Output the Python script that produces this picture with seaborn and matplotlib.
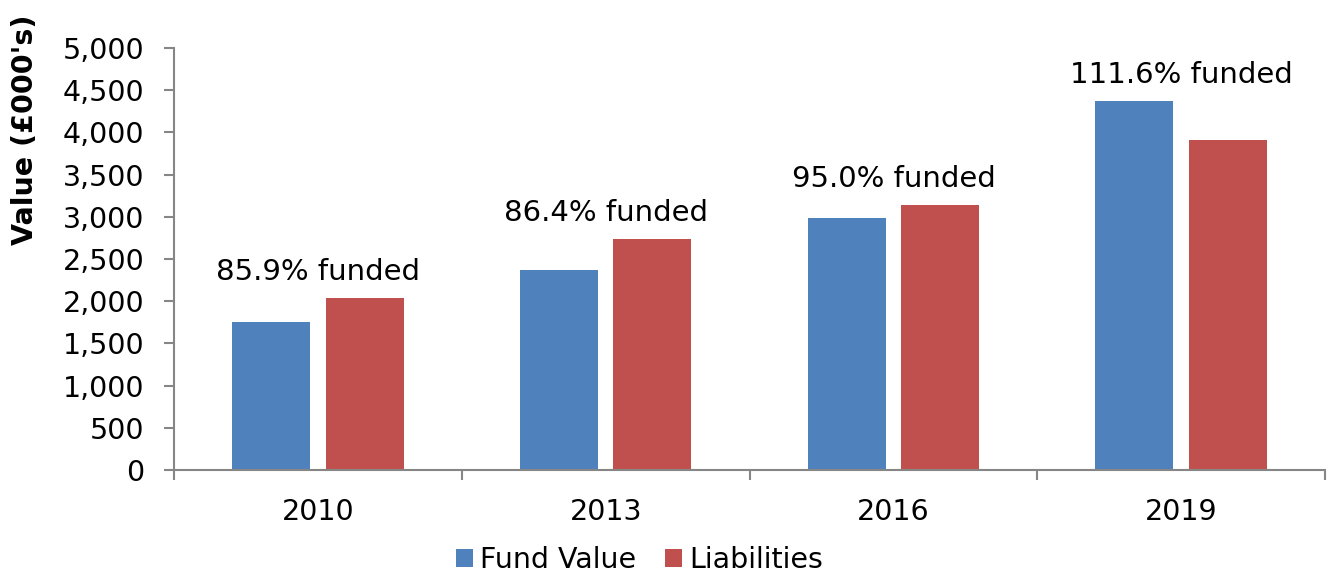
import pandas as pd
import numpy as np
import matplotlib.pyplot as plt
import seaborn as sns
from matplotlib.patches import Patch

# chart values
years = ['2010', '2013', '2016', '2019']
fund_value = [1755, 2370, 2985, 4370]
liabilities = [2040, 2740, 3140, 3915]
funded_labels = ['85.9% funded', '86.4% funded', '95.0% funded', '111.6% funded']
series = ['Fund Value', 'Liabilities']
colors = ['#4F81BD', '#C0504D']

df = pd.DataFrame({
    'Year': years * 2,
    'Value': fund_value + liabilities,
    'Series': [series[0]] * len(years) + [series[1]] * len(years),
})

sns.set_style('white')
plt.rcParams['font.family'] = ['DejaVu Sans']
plt.rcParams['text.color'] = 'black'
fs = 20.5

fig = plt.figure(figsize=(13.27, 5.76), dpi=100)
ax = fig.add_axes([174 / 1327, 1 - 470 / 576, (1325 - 174) / 1327, (470 - 48) / 576])

sns.barplot(data=df, x='Year', y='Value', hue='Series', order=years,
            hue_order=series, palette=colors, width=0.65, gap=0.165,
            saturation=1, legend=False, linewidth=0, ax=ax)

ax.set_xlim(-0.5, len(years) - 0.5)
ax.set_ylim(0, 5000)
ax.set_yticks(np.arange(0, 5001, 500))
ax.set_yticklabels([f'{v:,}' for v in range(0, 5001, 500)])
ax.set_xlabel('')
ax.set_ylabel('')

# spines
for s in ['top', 'right']:
    ax.spines[s].set_visible(False)
for s in ['left', 'bottom']:
    ax.spines[s].set_color('#868686')
    ax.spines[s].set_linewidth(1.5)

ax.tick_params(axis='y', which='major', direction='out', length=7.5, width=1.5,
               color='#868686', labelcolor='black', labelsize=fs, pad=14, left=True)
ax.tick_params(axis='x', which='major', length=0, labelsize=fs,
               labelcolor='black', pad=20)
ax.set_xticks(np.arange(-0.5, len(years), 1), minor=True)
ax.tick_params(axis='x', which='minor', direction='out', length=7.5, width=1.5,
               color='#868686', bottom=True)

# funded % labels above each group
for i, lab in enumerate(funded_labels):
    top = max(fund_value[i], liabilities[i])
    ax.annotate(lab, xy=(i, top), xytext=(0, 8.5), textcoords='offset points',
                ha='center', va='bottom', fontsize=fs + 0.5, color='black')

fig.text(25 / 1327, 1 - 130 / 576, "Value (£000's)", rotation=90,
         ha='center', va='center', fontsize=fs, fontweight='bold', color='black')

handles = [Patch(facecolor=c, edgecolor='none') for c in colors]
fig.legend(handles, series, loc='center', bbox_to_anchor=(0.482, 0.028),
           ncol=2, frameon=False, fontsize=fs, handlelength=0.6,
           handleheight=0.6, handletextpad=0.25, columnspacing=1.0,
           labelcolor='black')

fig.savefig('out.png', dpi=100)
